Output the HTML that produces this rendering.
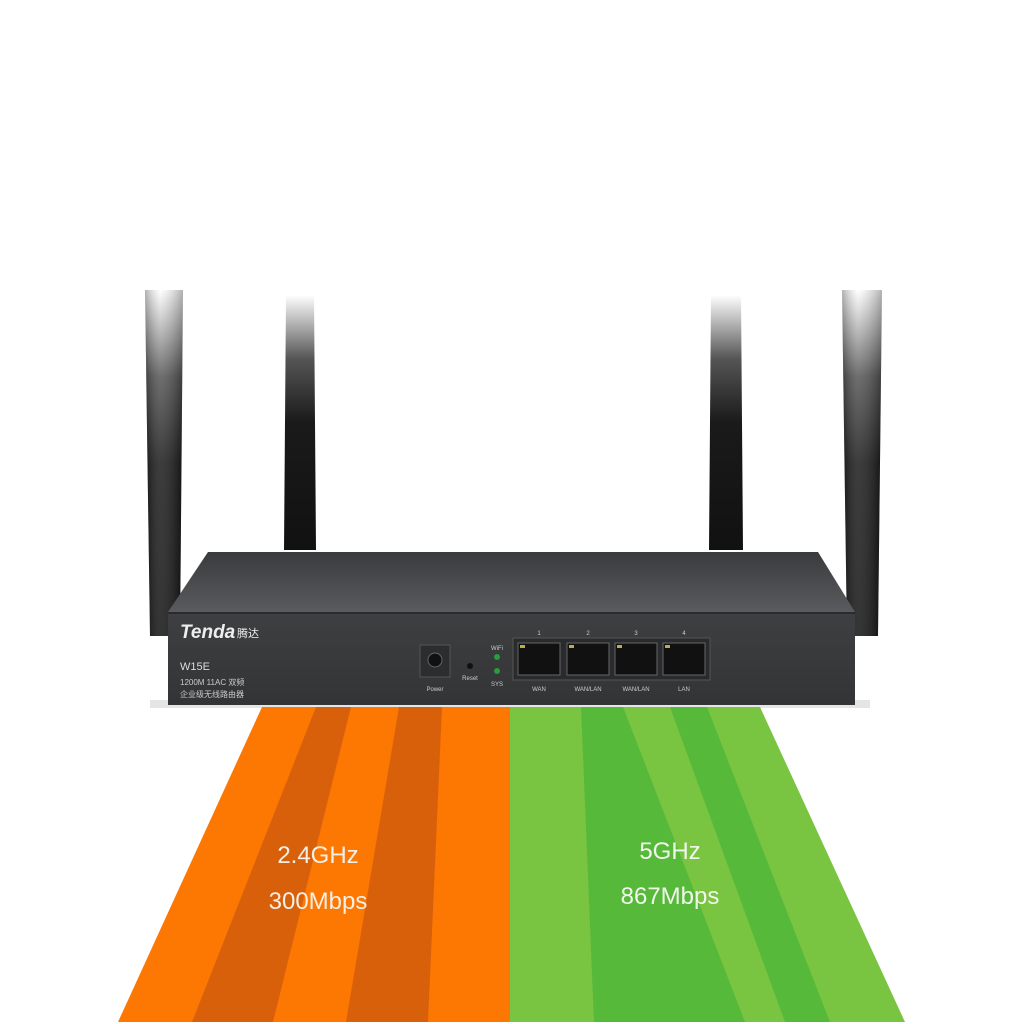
<!DOCTYPE html>
<html><head><meta charset="utf-8"><style>
body{margin:0;background:#fff;}
svg{display:block}
text{font-family:"Liberation Sans","Noto Sans CJK SC",sans-serif;}
</style></head><body>
<svg width="1024" height="1024" viewBox="0 0 1024 1024">
<defs>
<linearGradient id="ant" x1="0" y1="0" x2="0" y2="1">
<stop offset="0" stop-color="#fff"/><stop offset="0.25" stop-color="#555"/><stop offset="0.5" stop-color="#1a1a1a"/><stop offset="1" stop-color="#111"/>
</linearGradient>
<linearGradient id="antH" x1="0" y1="0" x2="1" y2="0">
<stop offset="0" stop-color="#000" stop-opacity="0.3"/><stop offset="0.4" stop-color="#fff" stop-opacity="0.15"/><stop offset="1" stop-color="#000" stop-opacity="0.3"/>
</linearGradient>
<linearGradient id="top" x1="0" y1="0" x2="0" y2="1">
<stop offset="0" stop-color="#3a3b3d"/><stop offset="1" stop-color="#5a5b5e"/>
</linearGradient>
<linearGradient id="front" x1="0" y1="0" x2="0" y2="1">
<stop offset="0" stop-color="#3e3f41"/><stop offset="1" stop-color="#333436"/>
</linearGradient>
</defs>
<!-- antennas -->
<polygon points="145,290 183,290 180,636 150,636" fill="url(#ant)"/>
<polygon points="145,290 183,290 180,636 150,636" fill="url(#antH)"/>
<polygon points="286,295 314,295 316,550 284,550" fill="url(#ant)"/>
<polygon points="711,295 741,295 743,550 709,550" fill="url(#ant)"/>
<polygon points="842,290 882,290 878,636 847,636" fill="url(#ant)"/>
<polygon points="842,290 882,290 878,636 847,636" fill="url(#antH)"/>
<!-- shadow -->
<rect x="150" y="700" width="720" height="8" fill="#ccc" opacity="0.5"/>
<!-- router top -->
<polygon points="208,552 818,552 855,612 168,612" fill="url(#top)"/>
<polygon points="168,612 855,612 855,616 168,616" fill="#2a2b2d"/>
<rect x="168" y="614" width="687" height="91" fill="url(#front)"/>
<!-- beams -->
<polygon points="262,707 510,707 510,1022 118,1022" fill="#fd7703"/>
<polygon points="316,707 351,707 273,1022 192,1022" fill="#d9600b"/>
<polygon points="399,707 442,707 428,1022 346,1022" fill="#d9600b"/>
<polygon points="510,707 760,707 905,1022 510,1022" fill="#79c441"/>
<polygon points="581,707 623,707 745,1022 594,1022" fill="#56b93a"/>
<polygon points="670,707 707,707 830,1022 785,1022" fill="#56b93a"/>
<text x="318" y="863" font-size="24" fill="#f5efe6" text-anchor="middle">2.4GHz</text>
<text x="318" y="909" font-size="24" fill="#f5efe6" text-anchor="middle">300Mbps</text>
<text x="670" y="859" font-size="24" fill="#f0f7ea" text-anchor="middle">5GHz</text>
<text x="670" y="904" font-size="24" fill="#f0f7ea" text-anchor="middle">867Mbps</text>
<!-- front labels -->
<text x="180" y="638" font-size="19" font-weight="bold" font-style="italic" fill="#eee">Tenda</text>
<text x="237" y="637" font-size="11" fill="#eee">腾达</text>
<text x="180" y="670" font-size="11" fill="#ddd">W15E</text>
<text x="180" y="685" font-size="8" fill="#ccc">1200M 11AC 双频</text>
<text x="180" y="697" font-size="8" fill="#ccc">企业级无线路由器</text>
<rect x="420" y="645" width="30" height="32" fill="#2c2d2f" stroke="#555" stroke-width="1"/>
<circle cx="435" cy="660" r="7" fill="#111" stroke="#666"/>
<text x="435" y="691" font-size="6" fill="#ccc" text-anchor="middle">Power</text>
<circle cx="470" cy="666" r="3" fill="#111"/>
<text x="470" y="680" font-size="6" fill="#ccc" text-anchor="middle">Reset</text>
<text x="497" y="650" font-size="6" fill="#ccc" text-anchor="middle">WiFi</text>
<circle cx="497" cy="657" r="3" fill="#2a9a3a"/>
<circle cx="497" cy="671" r="3" fill="#2a9a3a"/>
<text x="497" y="686" font-size="6" fill="#ccc" text-anchor="middle">SYS</text>
<rect x="513" y="638" width="197" height="42" fill="#2a2b2d" stroke="#555"/>
<g fill="#ccc" font-size="6" text-anchor="middle">
<text x="539" y="635">1</text><text x="588" y="635">2</text><text x="636" y="635">3</text><text x="684" y="635">4</text>
<text x="539" y="691">WAN</text><text x="588" y="691">WAN/LAN</text><text x="636" y="691">WAN/LAN</text><text x="684" y="691">LAN</text>
</g>
<g fill="#111" stroke="#666" stroke-width="1">
<rect x="518" y="643" width="42" height="32"/><rect x="567" y="643" width="42" height="32"/><rect x="615" y="643" width="42" height="32"/><rect x="663" y="643" width="42" height="32"/>
</g>
<g fill="#b8b04a">
<rect x="520" y="645" width="5" height="3"/><rect x="569" y="645" width="5" height="3"/><rect x="617" y="645" width="5" height="3"/><rect x="665" y="645" width="5" height="3"/>
</g>
</svg>
</body></html>
